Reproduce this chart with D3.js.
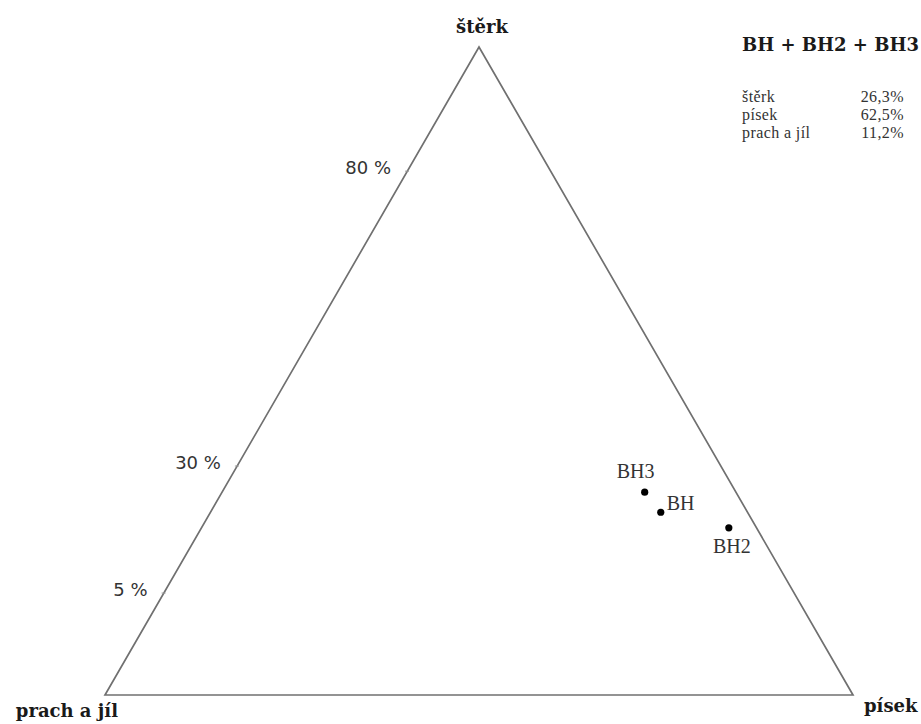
<!DOCTYPE html>
<html>
<head>
<meta charset="utf-8">
<script src="https://cdn.jsdelivr.net/npm/d3@7"></script>
<style>
  html, body { margin: 0; padding: 0; background: #fff; }
  svg { display: block; }
</style>
</head>
<body>
<svg id="chart" width="921" height="724"></svg>
<script>
// ---- data ----
const corners = ["prach a jíl", "písek", "štěrk"];
const samples = ["BH", "BH2", "BH3"];
const sterk   = [28.2, 25.8, 31.3];   // % gravel
const pisek   = [60.2, 70.5, 56.5];   // % sand
const prach   = [11.6, 3.7, 12.2];    // % silt + clay
const tickLabels = ["80 %", "30 %", "5 %"];
const tickAt     = [81.3, 35.8, 16.2]; // position along the štěrk edge (%)
const summaryTitle = "BH + BH2 + BH3";
const summaryNames = ["štěrk", "písek", "prach a jíl"];
const summaryValues = ["26,3%", "62,5%", "11,2%"];

// ---- layout ----
const svg = d3.select("#chart");
const xS = d3.scaleLinear().domain([0, 100]).range([105, 853]);
const yS = d3.scaleLinear().domain([0, 100]).range([695, 47]);
// ternary projection: (štěrk, písek) -> screen
const proj = (s, p) => [xS(p + s / 2), yS(s)];

const serif = "'Liberation Serif', 'Times New Roman', serif";
const serifBold = "'DejaVu Serif', serif";
const sans = "'DejaVu Sans', Verdana, sans-serif";

// triangle
const verts = [proj(0, 0), proj(0, 100), proj(100, 0)];
svg.append("path")
  .attr("d", d3.line()(verts) + "Z")
  .attr("fill", "none")
  .attr("stroke", "#707070")
  .attr("stroke-width", 1.7)
  .attr("stroke-linejoin", "miter");

// corner labels
const cornerStyle = sel => sel
  .attr("font-family", serifBold).attr("font-weight", "bold").attr("font-size", 18)
  .attr("fill", "#1a1a1a");
svg.append("text").text(corners[0])
  .attr("x", verts[0][0] + 13).attr("y", verts[0][1] + 22)
  .attr("text-anchor", "end").call(cornerStyle);
svg.append("text").text(corners[1])
  .attr("x", verts[1][0] + 11).attr("y", verts[1][1] + 17)
  .call(cornerStyle);
svg.append("text").text(corners[2])
  .attr("x", verts[2][0] + 3).attr("y", verts[2][1] - 14)
  .attr("text-anchor", "middle").call(cornerStyle);

// tick labels on the left edge
tickAt.forEach((v, i) => {
  const [x, y] = proj(v, 0);
  svg.append("line")
    .attr("x1", x - 4).attr("y1", y + 3).attr("x2", x).attr("y2", y + 3)
    .attr("stroke", "#999").attr("stroke-width", 1);
  svg.append("text").text(tickLabels[i])
    .attr("x", x - 18).attr("y", y + 6)
    .attr("text-anchor", "end")
    .attr("font-family", sans).attr("font-size", 18)
    .attr("fill", "#333");
});

// sample points
const pts = samples.map((n, i) => ({ name: n, xy: proj(sterk[i], pisek[i]) }));
svg.selectAll("circle.pt").data(pts).join("circle")
  .attr("class", "pt")
  .attr("cx", d => d.xy[0]).attr("cy", d => d.xy[1])
  .attr("r", 3.6).attr("fill", "#000");

const lblOff = { BH: [6, -2, "start"], BH2: [3, 25, "middle"], BH3: [-9, -14, "middle"] };
svg.selectAll("text.pl").data(pts).join("text")
  .attr("class", "pl")
  .attr("x", d => d.xy[0] + lblOff[d.name][0])
  .attr("y", d => d.xy[1] + lblOff[d.name][1])
  .attr("text-anchor", d => lblOff[d.name][2])
  .attr("font-family", serif).attr("font-size", 20)
  .attr("fill", "#333")
  .text(d => d.name);

// summary box
svg.append("text").text(summaryTitle)
  .attr("x", 742).attr("y", 51)
  .attr("font-family", serifBold).attr("font-weight", "bold").attr("font-size", 18)
  .attr("fill", "#1a1a1a");
summaryNames.forEach((n, i) => {
  svg.append("text").text(n)
    .attr("x", 742).attr("y", 102 + i * 18)
    .attr("font-family", serif).attr("font-size", 16)
    .attr("letter-spacing", 0.4).attr("fill", "#333");
  svg.append("text").text(summaryValues[i])
    .attr("x", 904).attr("y", 102 + i * 18)
    .attr("text-anchor", "end")
    .attr("font-family", serif).attr("font-size", 16)
    .attr("letter-spacing", 0.4).attr("fill", "#333");
});
</script>
</body>
</html>
